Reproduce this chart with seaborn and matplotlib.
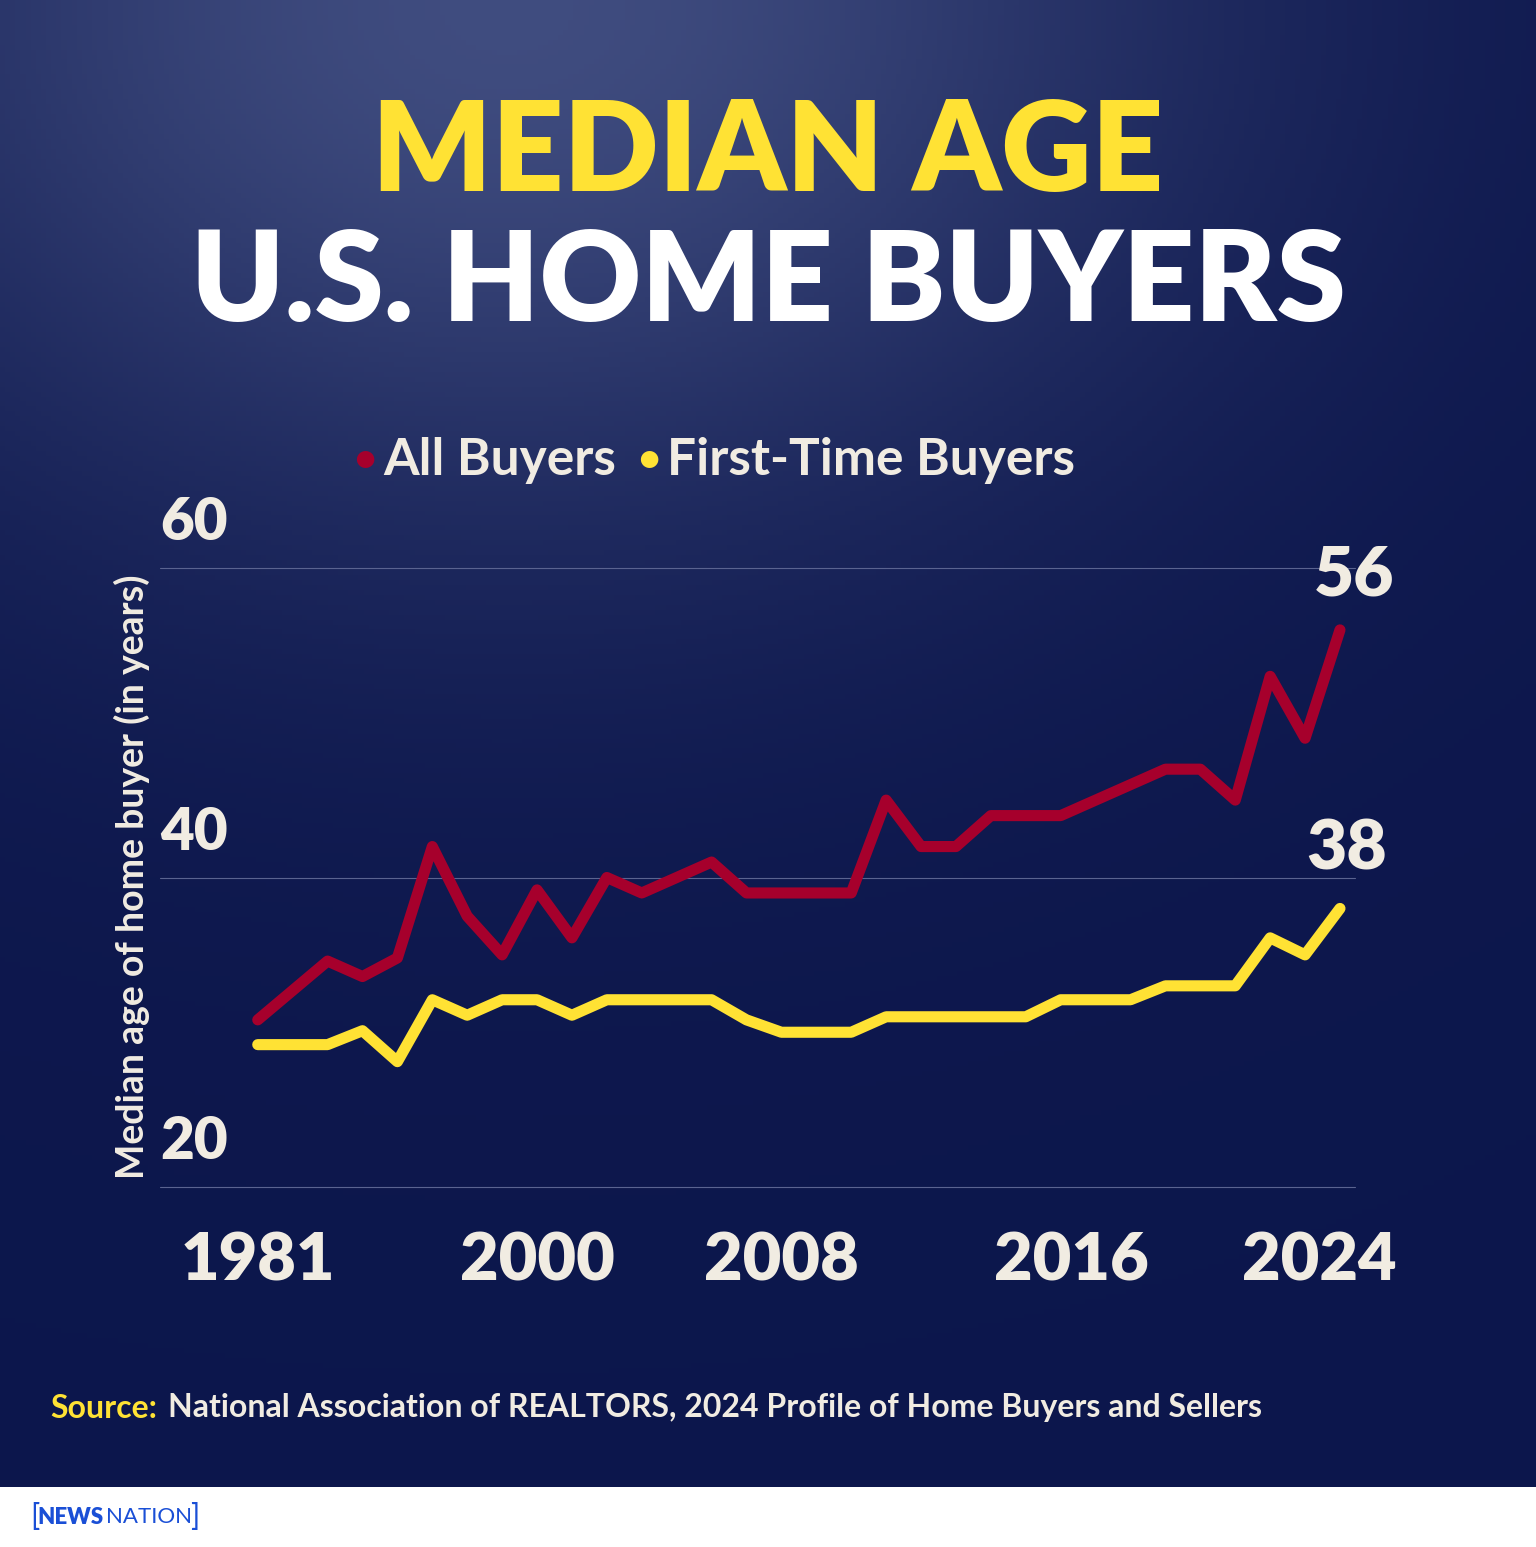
import pandas as pd
import numpy as np
import matplotlib.pyplot as plt
import seaborn as sns

# Setup
sns.set_style('dark') # Dark base, we paint our own background
plt.rcParams['font.family'] = ['Lato', 'DejaVu Sans']

NAVY = '#101a4e'
RED = '#a6002c'
YELLOW = '#ffe234'
CREAM = '#f1ece2'


def generate_chart(output_path):
    # Survey points, 1981 -> 2024 (median age in years)
    all_buyers = [30.8, 32.7, 34.6, 33.6, 34.8, 42, 37.5, 35, 39.2, 36.1, 40, 39, 40, 41, 39, 39,
                  39, 39, 45, 42, 42, 44, 44, 44, 45, 46, 47, 47, 45, 53, 49, 56]
    first_time = [29.2, 29.2, 29.2, 30.1, 28.1, 32.1, 31.1, 32.1, 32.1, 31.1, 32.1, 32.1, 32.1, 32.1, 30.8, 30,
                  30, 30, 31, 31, 31, 31, 31, 32.1, 32.1, 32.1, 33, 33, 33, 36.1, 35, 38]
    df = pd.DataFrame({'step': range(len(all_buyers)),
                       'All Buyers': all_buyers,
                       'First-Time Buyers': first_time})

    fig = plt.figure(figsize=(15.36, 15.47), dpi=100)

    # Background: navy with a soft glow near the top
    bg = fig.add_axes([0, 60 / 1547, 1, 1 - 60 / 1547])
    yy, xx = np.mgrid[0:1:300j, 0:1:300j]
    glow = np.exp(-(((xx - 0.33) / 0.45) ** 2 + ((yy - 0.0) / 0.35) ** 2))
    base = np.array([0.05, 0.09, 0.30])
    top = np.array([0.25, 0.30, 0.50])
    img = base + glow[..., None] * (top - base)
    bg.imshow(img, aspect='auto', extent=[0, 1, 0, 1], origin='upper')
    bg.axis('off')

    # Main chart
    ax = fig.add_axes([160 / 1536, 1 - 1187 / 1547, 1195 / 1536, 619 / 1547])
    ax.set_facecolor('none')
    sns.lineplot(data=df, x='step', y='All Buyers', color=RED, linewidth=8,
                 solid_joinstyle='round', solid_capstyle='round', ax=ax)
    sns.lineplot(data=df, x='step', y='First-Time Buyers', color=YELLOW, linewidth=8,
                 solid_joinstyle='round', solid_capstyle='round', ax=ax)
    ax.set_xlim(-2.8, 31.43)
    ax.set_ylim(20, 60)
    ax.set_xticks([])
    ax.set_yticks([])
    for v in [20, 40, 60]:
        ax.axhline(v, color='#5a6390', linewidth=0.8, zorder=0, clip_on=False)
        ax.text(-2.8, v + 1.2, str(v), color=CREAM, fontsize=42, fontweight='heavy',
                ha='left', va='bottom')
    for s in ax.spines.values():
        s.set_visible(False)
    ax.set_xlabel('')
    ax.set_ylabel('')

    # Year labels
    for step, year in [(0, '1981'), (8, '2000'), (15, '2008'), (23.3, '2016'), (30.4, '2024')]:
        ax.text(step, 17.2, year, color=CREAM, fontsize=48, fontweight='heavy',
                ha='center', va='top', clip_on=False)

    # End labels
    ax.text(31.4, 59.5, '56', color=CREAM, fontsize=50, fontweight='heavy', ha='center', va='center')
    ax.text(31.2, 41.8, '38', color=CREAM, fontsize=50, fontweight='heavy', ha='center', va='center')

    # Titles
    fig.text(0.5, 1 - 155 / 1547, 'MEDIAN AGE', color=YELLOW, fontsize=90, fontweight='heavy',
             ha='center', va='center')
    fig.text(0.5, 1 - 285 / 1547, 'U.S. HOME BUYERS', color='white', fontsize=90, fontweight='heavy',
             ha='center', va='center')

    # Legend
    fig.text(365 / 1536, 1 - 460 / 1547, '•', color=RED, fontsize=34, ha='center', va='center')
    fig.text(383 / 1536, 1 - 460 / 1547, 'All Buyers', color=CREAM, fontsize=37, fontweight='bold',
             ha='left', va='center')
    fig.text(649 / 1536, 1 - 460 / 1547, '•', color=YELLOW, fontsize=34, ha='center', va='center')
    fig.text(667 / 1536, 1 - 460 / 1547, 'First-Time Buyers', color=CREAM, fontsize=37, fontweight='bold',
             ha='left', va='center')

    # Y axis title
    fig.text(132 / 1536, 1 - 877 / 1547, 'Median age of home buyer (in years)', color=CREAM,
             fontsize=27, fontweight='bold', rotation=90, ha='center', va='center')

    # Source
    fig.text(50 / 1536, 1 - 1408 / 1547, 'Source:', color=YELLOW, fontsize=23, fontweight='bold',
             ha='left', va='center')
    fig.text(168 / 1536, 1 - 1408 / 1547,
             'National Association of REALTORS, 2024 Profile of Home Buyers and Sellers',
             color=CREAM, fontsize=23, fontweight='bold', ha='left', va='center')

    # Footer logo
    fig.text(37 / 1536, 1 - 1517 / 1547, 'NEWS', color='#1a4fd6', fontsize=16, fontweight='heavy',
             ha='left', va='center')
    fig.text(106 / 1536, 1 - 1517 / 1547, 'NATION', color='#1a4fd6', fontsize=16,
             ha='left', va='center')
    fig.text(30 / 1536, 1 - 1517 / 1547, '[', color='#1a4fd6', fontsize=22, ha='left', va='center')
    fig.text(190 / 1536, 1 - 1517 / 1547, ']', color='#1a4fd6', fontsize=22, ha='left', va='center')

    fig.patch.set_facecolor('white')
    plt.savefig(output_path, dpi=100, facecolor='white')
    plt.close()
    print(f"Generated {output_path}")


if __name__ == "__main__":
    generate_chart('out.png')
